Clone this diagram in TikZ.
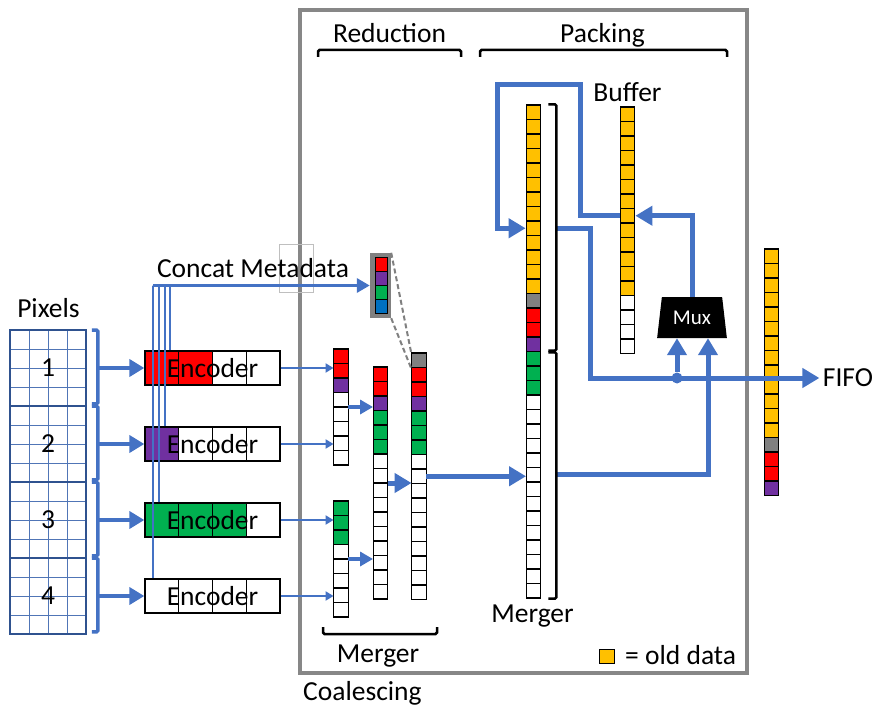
\documentclass[tikz,border=0pt]{standalone}
\usepackage{fontspec}
\setmainfont{Carlito}
\usetikzlibrary{arrows.meta, shapes.geometric}
\usetikzlibrary{positioning}

\definecolor{linkblue}{HTML}{4472C4}
\definecolor{gridblue}{HTML}{2F528F}
\definecolor{boxgray}{HTML}{878787}
\definecolor{gry}{HTML}{808080}
\definecolor{old}{HTML}{FFC000}
\definecolor{prp}{HTML}{7030A0}
\definecolor{grn}{HTML}{00B050}
\definecolor{blu}{HTML}{0070C0}

\newcommand{\diagfont}{\fontsize{27.5}{33}\selectfont}

\tikzstyle{cell} = [
    rectangle,
    draw=black,
    line width=1.3pt,
    inner sep=0pt,
    minimum width=14.5pt,
    minimum height=14.5pt
]
\tikzstyle{col_frame} = [
    rectangle,
    inner sep=0pt,
    minimum width=14.5pt
]
\tikzstyle{meta_cell} = [
    rectangle,
    draw=black,
    line width=1pt,
    inner sep=0pt,
    minimum width=12pt,
    minimum height=14pt
]
\tikzstyle{enc_cell} = [
    rectangle,
    draw=black,
    line width=1.3pt,
    inner sep=0pt,
    minimum width=33.75pt,
    minimum height=34pt
]
\tikzstyle{enc_box} = [
    rectangle,
    draw=black,
    line width=1.3pt,
    font=\diagfont,
    inner sep=0pt,
    minimum width=135pt,
    minimum height=34pt
]
\tikzstyle{px_block} = [
    rectangle,
    draw=gridblue,
    line width=1.8pt,
    font=\diagfont,
    inner sep=0pt,
    minimum width=76pt,
    minimum height=76pt
]
\tikzstyle{mux_shape} = [
    trapezium,
    trapezium left angle=77.6,
    trapezium right angle=77.6,
    trapezium stretches=true,
    fill=black,
    text=white,
    inner sep=0pt,
    minimum width=70pt,
    minimum height=41pt,
    font=\fontsize{21}{25}\selectfont
]
\tikzstyle{junction_dot} = [circle, fill=linkblue, inner sep=0pt, minimum size=11pt]
\tikzstyle{label_text} = [font=\diagfont, inner sep=0pt, anchor=base]
\tikzstyle{grid_line} = [linkblue!80!gray, line width=1pt]
\tikzstyle{px_bracket} = [linkblue, line width=3.5pt, rounded corners=1.5pt]
\tikzstyle{px_arrow} = [linkblue, line width=4.5pt, -{Triangle[length=15pt, width=17pt]}]
\tikzstyle{thin_arrow} = [linkblue, line width=2pt, -{Triangle[length=8pt, width=9pt]}]
\tikzstyle{mid_arrow} = [linkblue, line width=3.5pt, -{Triangle[length=13pt, width=14pt]}]
\tikzstyle{big_arrow} = [linkblue, line width=5pt, -{Triangle[length=17pt, width=19pt]}]
\tikzstyle{bus_line} = [linkblue, line width=2pt]
\tikzstyle{brace_line} = [black, line width=2.5pt, rounded corners=1.5pt]
\tikzstyle{zoom_dash} = [gry, line width=2pt, dash pattern=on 5pt off 3pt]

% a column of data cells: name, centre x, top y, number of cells, colours
\newcommand{\cellcol}[5]{%
    \node[col_frame, minimum height=#4*14.5pt] (#1) at (#2, #3+#4*7.25) {};
    \foreach \clr [count=\i] in {#5}
        \node[cell, fill=\clr] (#1-\i) at (#2, #3+\i*14.5-7.25) {};
}
% an encoder with its four cells: name, centre y, colours
\newcommand{\encoder}[3]{%
    \foreach \clr [count=\i] in {#3}
        \node[enc_cell, fill=\clr] (#1-\i) at (145+33.75*\i-16.875, #2) {};
    \node[enc_box] (#1) at (212.5, #2) {Encoder};
}

\begin{document}
\begin{tikzpicture}[x=1pt, y=-1pt]
\useasboundingbox (0,0) rectangle (877,711);

% coalescing box
\node[draw=boxgray, line width=4pt, inner sep=0pt,
    minimum width=447pt, minimum height=663pt] (coal_box) at (523.5,341.5) {};
\node[draw=black!25, line width=0.8pt, inner sep=0pt,
    minimum width=34pt, minimum height=48pt] (ghost) at (296,268) {};

% pixels
\foreach \k in {1,...,15}
    \draw[grid_line] (10,330+19*\k) -- (86,330+19*\k);
\foreach \k in {1,2,3}
    \draw[grid_line] (10+19*\k,330) -- (10+19*\k,634);
\foreach \k in {1,...,4}
    \node[px_block] (px\k) at (48,292+76*\k) {\k};
\node[label_text] (pixels_lbl) at (48.5,317) {Pixels};

% encoders
\encoder{enc1}{368}{red,red,white,white}
\encoder{enc2}{444}{prp,white,white,white}
\encoder{enc3}{520}{grn,grn,grn,white}
\encoder{enc4}{596}{white,white,white,white}

\foreach \k in {1,...,4}{
    \draw[px_bracket] ([xshift=5pt,yshift=-1pt]px\k.north east) -- ++(6,0)
        |- ([xshift=5pt,yshift=3pt]px\k.south east);
    \draw[px_arrow] ([xshift=11pt]px\k.east) -- (enc\k);
}

% metadata
\coordinate (meta_bus) at (153,285.5);
\node[rectangle, fill=gry, inner sep=0pt,
    minimum width=21pt, minimum height=65pt] (meta) at (380.5,285.5) {};
\foreach \clr [count=\i] in {red,prp,grn,blu}
    \node[meta_cell, fill=\clr] (meta-\i) at (381, 257+14*\i-7) {};
\draw[bus_line] ([xshift=26pt]enc1.north west) |- (meta_bus);
\draw[bus_line] ([xshift=21pt]enc2.north west) |- (meta_bus);
\draw[bus_line] ([xshift=15pt]enc3.north west) |- (meta_bus);
\draw[bus_line] ([xshift=9pt]enc4.north west) |- (meta_bus);
\draw[mid_arrow] (meta_bus) -- (meta);
\node[label_text] (meta_lbl) at (253,277) {Concat Metadata};

% reduction
\cellcol{colA}{341}{349}{8}{red,red,prp,white,white,white,white,white}
\cellcol{colB}{341}{501}{8}{grn,grn,grn,white,white,white,white,white}
\cellcol{st2}{380.5}{367}{16}{red,red,prp,grn,grn,grn,white,white,white,white,white,white,white,white,white,white}
\cellcol{st3}{419}{353}{17}{gry,red,red,prp,grn,grn,grn,white,white,white,white,white,white,white,white,white,white}

\draw[thin_arrow] (enc1) -- (enc1 -| colA.west);
\draw[thin_arrow] (enc2) -- (enc2 -| colA.west);
\draw[thin_arrow] (enc3) -- (enc3 -| colB.west);
\draw[thin_arrow] (enc4) -- (enc4 -| colB.west);
\draw[mid_arrow] (colA) -- (colA -| st2.west);
\draw[mid_arrow] (colB) -- (colB -| st2.west);
\draw[big_arrow] (st2) -- (st2 -| st3.west);
\draw[zoom_dash] (meta.north east) -- (st3-1.north west);
\draw[zoom_dash] (meta.south east) -- (st3-1.south west);

% packing
\cellcol{merger}{533.5}{105}{34}{old,old,old,old,old,old,old,old,old,old,old,old,old,gry,red,red,prp,grn,grn,grn,white,white,white,white,white,white,white,white,white,white,white,white,white,white}
\cellcol{buffer}{627.5}{107}{17}{old,old,old,old,old,old,old,old,old,old,old,old,old,white,white,white,white}
\cellcol{fifo}{771.5}{249}{17}{old,old,old,old,old,old,old,old,old,old,old,old,old,gry,red,red,prp}
\node[mux_shape] (mux) at (692,317.5) {Mux};
\node[font=\diagfont] (fifo_lbl) at (848,378) {FIFO};
\node[junction_dot] (mux_dot) at (677,378) {};
\coordinate (tap) at (590,378);
\coordinate (loop_ne) at (580,85);
\coordinate (loop_nw) at (497,85);

\draw[big_arrow] (st3) -- (st3 -| merger.west);
\draw[big_arrow] (buffer-8) -| (loop_ne) -- (loop_nw) |- (merger-9);
\draw[big_arrow] (mux) |- (buffer-8);
\draw[big_arrow] ([xshift=15pt]merger-9.east) -| (tap) -- (fifo_lbl);
\draw[big_arrow] (mux_dot) -- (mux_dot |- mux.south);
\draw[big_arrow] ([xshift=15pt]merger-26.east) -| ([xshift=16pt]mux.south);

% brackets
\draw[brace_line] (318,57) -- (318,50) -- (461,50) -- (461,57);
\draw[brace_line] (480,57) -- (480,50) -- (727,50) -- (727,57);
\draw[brace_line] (323,627) -- (323,634) -- (437,634) -- (437,627);
\draw[brace_line] ([xshift=7pt]merger-1.north east) -- ++(8,0)
    |- ([xshift=7pt,yshift=1.5pt]merger-17.south east);
\draw[brace_line] ([xshift=7pt,yshift=-1.5pt]merger-18.north east) -- ++(8,0)
    |- ([xshift=7pt]merger-34.south east);

% labels
\node[label_text] (red_lbl) at (389.5,43) {Reduction};
\node[label_text] (pack_lbl) at (602.5,43) {Packing};
\node[label_text] (buf_lbl) at (627.5,101.5) {Buffer};
\node[label_text] (merge_lbl_a) at (378,662) {Merger};
\node[label_text] (merge_lbl_b) at (532.5,622) {Merger};
\node[label_text, anchor=base west] (coal_lbl) at (303,700) {Coalescing};

% legend
\node[cell, fill=old] (legend_sq) at (607,656.5) {};
\node[label_text, anchor=base west] (legend_lbl) at (625,664) {= old data};
\end{tikzpicture}
\end{document}
